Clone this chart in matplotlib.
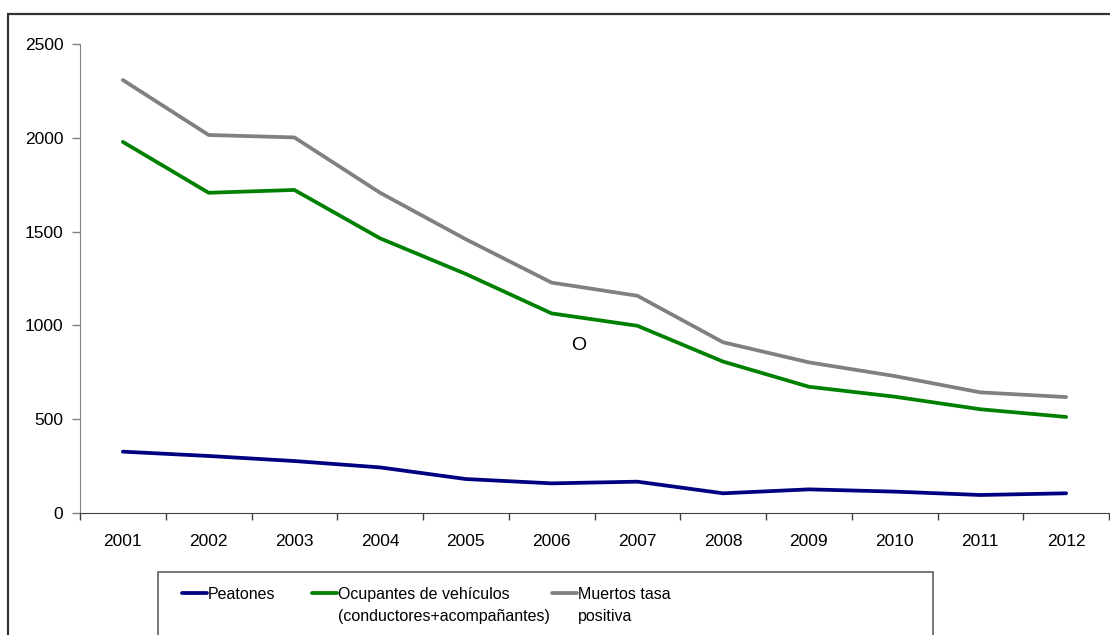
import numpy as np
import matplotlib.pyplot as plt
from matplotlib.patches import Rectangle
from matplotlib.lines import Line2D

plt.rcParams['font.family'] = ['Liberation Sans', 'DejaVu Sans']

years = ['2001', '2002', '2003', '2004', '2005', '2006',
         '2007', '2008', '2009', '2010', '2011', '2012']
peatones = [327, 304, 277, 243, 181, 158, 167, 105, 126, 114, 96, 105]
ocupantes = [1978, 1707, 1722, 1464, 1274, 1064, 998, 807, 673, 620, 553, 512]
muertos = [2308, 2015, 2002, 1707, 1459, 1228, 1158, 910, 803, 730, 643, 618]

labels = ['Peatones', 'Ocupantes de vehículos\n(conductores+acompañantes)',
          'Muertos tasa\npositiva']
colors = ['#000080', '#008000', '#808080']

W, H = 1110, 635
fig = plt.figure(figsize=(W / 100, H / 100), dpi=100)
ax = fig.add_axes([80 / W, 1 - 513 / H, 1029 / W, 469 / H])

x = np.arange(len(years))
for vals, col in zip([peatones, ocupantes, muertos], colors):
    ax.plot(x, vals, color=col, lw=2.7, solid_capstyle='round',
            solid_joinstyle='round')

ax.set_xlim(-0.5, len(years) - 0.5)
ax.set_ylim(0, 2500)
ax.set_yticks([0, 500, 1000, 1500, 2000, 2500])
# ticks sit on the category boundaries, labels in the middle
ax.set_xticks(np.arange(-0.5, len(years)), labels=[])
ax.set_xticks(x, labels=years, minor=True)
ax.tick_params(axis='x', which='major', direction='out', length=5,
               color='#404040', width=1)
ax.tick_params(axis='x', which='minor', length=0, pad=15, labelsize=12.5)
ax.tick_params(axis='y', direction='out', length=6, color='#808080',
               width=1, labelsize=12.5, pad=6)
for s in ['top', 'right']:
    ax.spines[s].set_visible(False)
ax.spines['left'].set_color('#808080')
ax.spines['bottom'].set_color('#404040')
ax.patch.set_visible(False)

ax.text(5.31, 895, 'O', fontsize=14, ha='center', va='center')

# outer chart frame
fig.patches.append(Rectangle((7.5 / W, -0.1), 1.2, 1.1 - 14 / H,
                             transform=fig.transFigure, fill=False,
                             ec='#333333', lw=1.6))
# legend frame
fig.patches.append(Rectangle((157.5 / W, -0.1), (933 - 157.5) / W,
                             0.1 + 1 - 572.5 / H, transform=fig.transFigure,
                             fill=False, ec='#606060', lw=1.2))

handle_x = [182, 312, 552]
for hx, lab, col in zip(handle_x, labels, colors):
    yy = 1 - 593 / H
    fig.lines.append(Line2D([hx / W, (hx + 25) / W], [yy, yy],
                            transform=fig.transFigure, color=col, lw=2.7,
                            solid_capstyle='round'))
    fig.text((hx + 26) / W, 1 - 587 / H, lab, fontsize=11.5, va='top',
             ha='left', linespacing=1.62)

fig.savefig('out.png', dpi=100)
